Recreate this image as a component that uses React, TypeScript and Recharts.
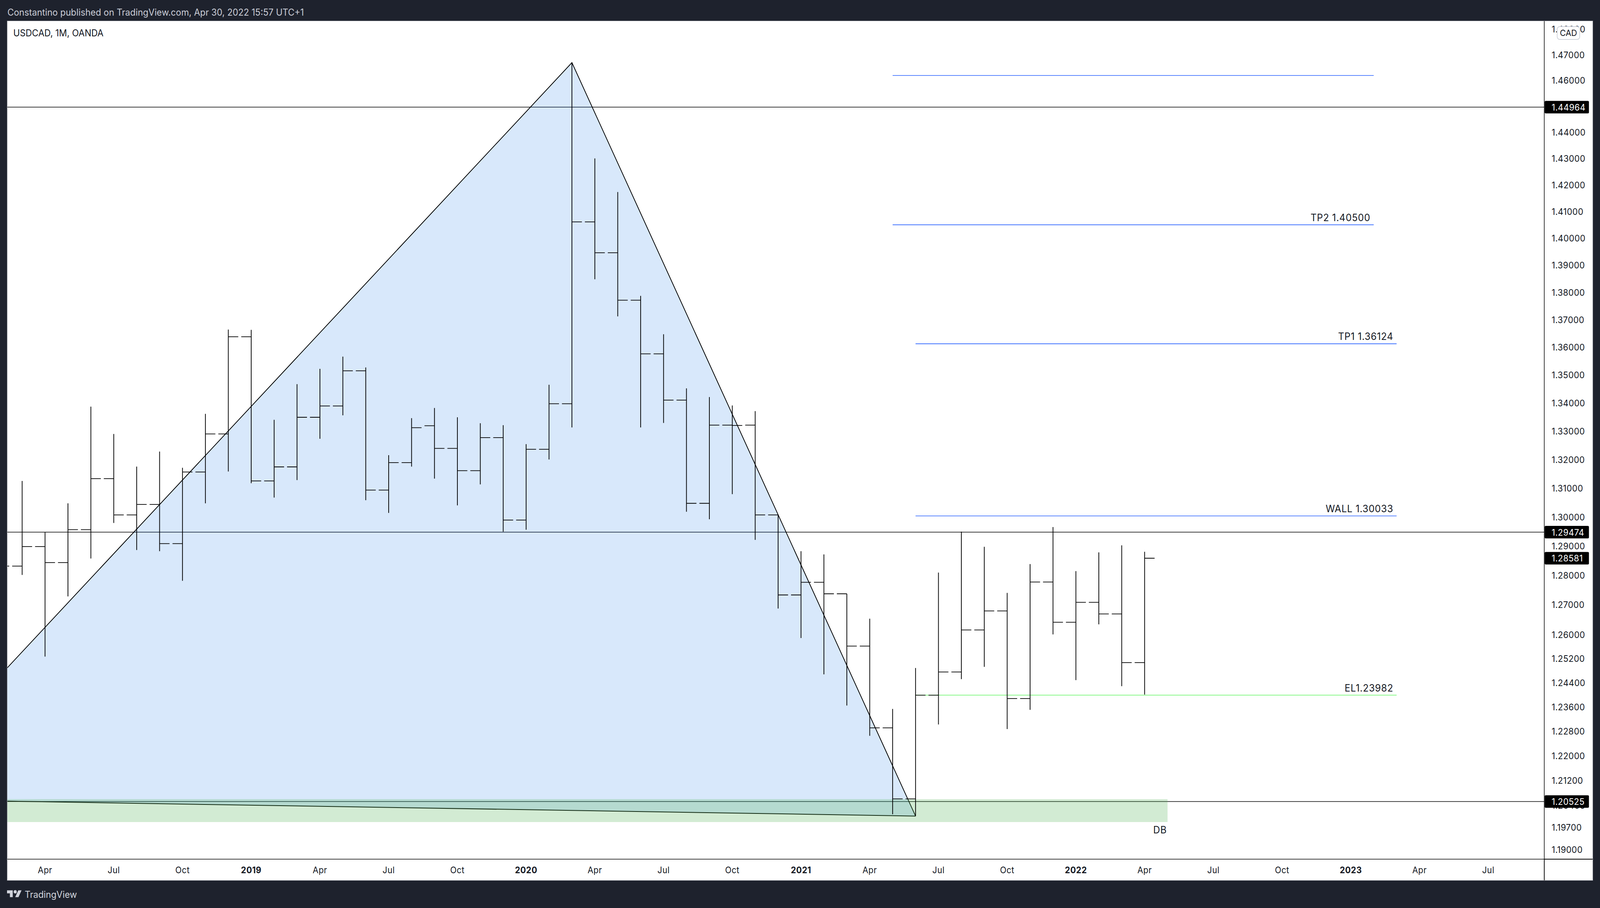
import React from "react";
import { ComposedChart, Line, Area, Scatter, XAxis, YAxis, ReferenceArea } from "recharts";

// Months counted from Jan 2018 = 0
const barMonths = [2,3,4,5,6,7,8,9,10,11,12,13,14,15,16,17,18,19,20,21,22,23,24,25,26,27,28,29,30,31,32,33,34,35,36,37,38,39,40,41,42,43,44,45,46,47,48,49,50,51];
const opens = [1.2831,1.2898,1.2843,1.2956,1.3133,1.3007,1.3043,1.2908,1.3156,1.329,1.3638,1.3125,1.3174,1.3349,1.3389,1.3515,1.3093,1.3189,1.3319,1.3239,1.3161,1.3277,1.2989,1.3236,1.3397,1.4061,1.3946,1.3771,1.3576,1.341,1.3047,1.3321,1.3321,1.3007,1.2733,1.2776,1.2737,1.2561,1.2291,1.2061,1.2398,1.2475,1.2615,1.2679,1.2387,1.2777,1.2641,1.2708,1.2669,1.2506];
const highs = [1.3125,1.2947,1.3047,1.3387,1.329,1.3175,1.3228,1.3171,1.3361,1.3664,1.3663,1.334,1.3467,1.3522,1.3566,1.3527,1.3215,1.3346,1.3382,1.3349,1.3328,1.3321,1.3254,1.3465,1.4669,1.43,1.4173,1.3787,1.3647,1.3452,1.3421,1.3391,1.3371,1.3007,1.2882,1.2871,1.2737,1.2653,1.2353,1.2488,1.2809,1.2949,1.2897,1.274,1.2838,1.2965,1.2814,1.2878,1.2902,1.288];
const lows = [1.2801,1.2526,1.2728,1.2857,1.2979,1.2886,1.2882,1.2781,1.3047,1.3158,1.3117,1.3067,1.3128,1.3273,1.3356,1.3058,1.3014,1.3175,1.3133,1.304,1.3113,1.2949,1.2956,1.32,1.3313,1.3848,1.3712,1.3313,1.3329,1.3018,1.2992,1.3079,1.2921,1.2687,1.2588,1.2467,1.2364,1.2265,1.2012,1.2006,1.2302,1.2451,1.2492,1.2287,1.235,1.26,1.2448,1.2634,1.2428,1.24];
const closes = [1.2898,1.2843,1.2956,1.3133,1.3007,1.3043,1.2908,1.3156,1.329,1.3638,1.3125,1.3174,1.3349,1.3389,1.3515,1.3093,1.3189,1.3312,1.3239,1.3161,1.3277,1.2989,1.3236,1.3397,1.4061,1.3946,1.3771,1.3576,1.341,1.3047,1.3321,1.332,1.3007,1.2733,1.2776,1.2737,1.2561,1.2291,1.2061,1.2398,1.2475,1.2615,1.2679,1.2387,1.2777,1.2641,1.2708,1.2669,1.2506,1.2858];
const febCloseMonth = 1;
const febClose = 1.2831;

const triangleMonths = [-4, 26, 41];
const triangleLow = [1.206, 1.2024, 1.2006];
const triangleHigh = [1.206, 1.4669, 1.2006];

const horizontalLevels = [1.44964, 1.29474, 1.20525];
const blueSegments = [
  { from: 40, to: 61, price: 1.4619 },
  { from: 40, to: 61, price: 1.405 },
  { from: 41, to: 62, price: 1.36124 },
  { from: 41, to: 62, price: 1.30033 },
];
const greenSegment = { from: 41, to: 62, price: 1.23982 };
const zone = { from: -4, to: 52, top: 1.206, bottom: 1.1987 };

const annotations = [
  { x: 61, y: 1.405, text: "TP2 1.40500", below: false },
  { x: 62, y: 1.36124, text: "TP1 1.36124", below: false },
  { x: 62, y: 1.30033, text: "WALL 1.30033", below: false },
  { x: 62, y: 1.23982, text: "EL1.23982", below: false },
  { x: 52, y: 1.1987, text: "DB", below: true },
];

const tickMonths = [3,6,9,12,15,18,21,24,27,30,33,36,39,42,45,48,51,54,57,60,63,66];
const tickLabels = ["Apr","Jul","Oct","2019","Apr","Jul","Oct","2020","Apr","Jul","Oct","2021","Apr","Jul","Oct","2022","Apr","Jul","Oct","2023","Apr","Jul"];

const priceTicks = [1.48,1.47,1.46,1.45,1.44,1.43,1.42,1.41,1.4,1.39,1.38,1.37,1.36,1.35,1.34,1.33,1.32,1.31,1.3,1.29,1.28,1.27,1.26,1.252,1.244,1.236,1.228,1.22,1.212,1.204,1.197,1.19];
const priceTags = [1.44964, 1.29474, 1.28581, 1.20525];

const xDomain = [1.3557, 68.446];
const yDomain = [1.18692, 1.48319];

const FONT = "Inter, 'Liberation Sans', sans-serif";
const DARK = "#1e222d";
const PAGE_W = 4336;
const PAGE_H = 2324;

const wickData = barMonths.flatMap((m, i) => [{ x: m, y: lows[i] }, { x: m, y: highs[i] }, { x: m + 0.001, y: null }]);
const tickLen = 0.435;
const openData = barMonths.flatMap((m, i) => [{ x: m - tickLen, y: opens[i] }, { x: m, y: opens[i] }, { x: m + 0.001, y: null }]);
const closeData = [
  { x: febCloseMonth, y: febClose }, { x: febCloseMonth + tickLen, y: febClose }, { x: febCloseMonth + 0.5, y: null },
  ...barMonths.flatMap((m, i) => [{ x: m, y: closes[i] }, { x: m + tickLen, y: closes[i] }, { x: m + 0.5, y: null }]),
];
const triangleData = triangleMonths.map((m, i) => ({ x: m, range: [triangleLow[i], triangleHigh[i]] }));
const levelData = horizontalLevels.flatMap((p) => [{ x: xDomain[0], y: p }, { x: xDomain[1], y: p }, { x: xDomain[1], y: null }]);
const blueData = blueSegments.flatMap((s) => [{ x: s.from, y: s.price }, { x: s.to, y: s.price }, { x: s.to, y: null }]);
const greenData = [{ x: greenSegment.from, y: greenSegment.price }, { x: greenSegment.to, y: greenSegment.price }];

function PriceTick(props: any) {
  const { x, y, payload } = props;
  const v = payload.value;
  const tag = priceTags.includes(v);
  return (
    <g>
      {tag && <rect x={x - 19} y={y - 16} width={120} height={32} rx={3} fill="#000" />}
      <text x={x} y={y} dominantBaseline="central" textAnchor="start" fontFamily={FONT} fontSize={23} letterSpacing={0.4} fill={tag ? "#fff" : "#131722"}>
        {v.toFixed(5)}
      </text>
    </g>
  );
}

function TimeTick(props: any) {
  const { x, y, payload } = props;
  const label = tickLabels[tickMonths.indexOf(payload.value)];
  const year = /^\d/.test(label);
  return (
    <text x={x} y={y} dominantBaseline="central" textAnchor="middle" fontFamily={FONT} fontSize={22.5} fontWeight={year ? 700 : 400} letterSpacing={0.5} fill="#131722">
      {label}
    </text>
  );
}

function NoteShape(props: any) {
  const { cx, cy, payload } = props;
  return (
    <text x={cx - (payload.below ? 2 : 9)} y={cy + (payload.below ? 20 : -19)} dominantBaseline="central" textAnchor="end" fontFamily={FONT} fontSize={25.5} letterSpacing={0.8} fill="#131722">
      {payload.text}
    </text>
  );
}

const abs = (s: React.CSSProperties): React.CSSProperties => ({ position: "absolute", ...s });

export default function App() {
  const extra: any = {};
  // The browser window can be narrower than the page: fit the full width into it.
  const winW = typeof window !== "undefined" ? window.innerWidth : PAGE_W;
  const sx = Math.min(1, winW / PAGE_W);
  return (
    <div style={abs({ left: 0, top: 0, width: PAGE_W * sx, height: PAGE_H, overflow: "hidden", background: DARK })}>
      <div style={abs({ left: 0, top: 0, width: PAGE_W, height: PAGE_H, background: DARK, fontFamily: FONT, transform: `scaleX(${sx})`, transformOrigin: "0 0" })}>
        <div style={abs({ left: 19, top: 53, width: 4296, height: 2199, background: "#fff", border: "1px solid #8a8d96" })} />
        <div style={abs({ left: 20, top: 19, fontSize: 24, lineHeight: "26px", color: "#c9ccd6", whiteSpace: "nowrap" })}>
          Constantino published on TradingView.com, Apr 30, 2022 15:57 UTC+1
        </div>
        <ComposedChart width={PAGE_W} height={PAGE_H} margin={{ top: 54, right: 20, bottom: 71, left: 20 }} style={{ position: "absolute", left: 0, top: 0 }}>
          <XAxis
            type="number"
            dataKey="x"
            domain={xDomain}
            allowDataOverflow
            ticks={tickMonths}
            interval={0}
            height={54}
            tickSize={0}
            tickMargin={28}
            tick={<TimeTick />}
            tickLine={false}
            axisLine={{ stroke: "#000", strokeWidth: 1.6 }}
          />
          <YAxis
            orientation="right"
            type="number"
            scale="log"
            domain={yDomain}
            allowDataOverflow
            ticks={[...priceTicks, ...priceTags]}
            interval={0}
            width={131}
            tickSize={0}
            tickMargin={20}
            tick={<PriceTick />}
            tickLine={false}
            axisLine={{ stroke: "#000", strokeWidth: 1.6 }}
          />
          <Line {...extra} zIndex={50} name="Horizontal levels" data={levelData} dataKey="y" stroke="#000" strokeWidth={1.6} dot={false} isAnimationActive={false} />
          <Area {...extra} zIndex={100} name="Triangle" data={triangleData} dataKey="range" type="linear" stroke="#000" strokeWidth={2} fill="rgb(38,127,233)" fillOpacity={0.18} dot={false} isAnimationActive={false} />
          <ReferenceArea {...extra} zIndex={110} x1={zone.from} x2={zone.to} y1={zone.bottom} y2={zone.top} fill="#4caf50" fillOpacity={0.25} stroke="none" ifOverflow="hidden" />
          <Line {...extra} zIndex={120} name="Targets" data={blueData} dataKey="y" stroke="#2962ff" strokeWidth={1.6} dot={false} isAnimationActive={false} />
          <Line {...extra} zIndex={120} name="Entry" data={greenData} dataKey="y" stroke="#66f566" strokeWidth={1.6} dot={false} isAnimationActive={false} />
          <Line {...extra} zIndex={400} name="High-Low" data={wickData} dataKey="y" stroke="#000" strokeWidth={2} dot={false} isAnimationActive={false} />
          <Line {...extra} zIndex={400} name="Open" data={openData} dataKey="y" stroke="#000" strokeWidth={1.8} dot={false} isAnimationActive={false} />
          <Line {...extra} zIndex={400} name="Close" data={closeData} dataKey="y" stroke="#000" strokeWidth={1.8} dot={false} isAnimationActive={false} />
          <Scatter {...extra} zIndex={500} name="Notes" data={annotations} dataKey="y" shape={<NoteShape />} isAnimationActive={false} />
        </ComposedChart>
        <div style={abs({ left: 4184, top: 2199, width: 2, height: 54, background: "#000" })} />
        <div style={abs({ left: 4185, top: 2198, width: 131, height: 2, background: "#000" })} />
        <div style={abs({ left: 36, top: 72, fontSize: 24, lineHeight: "26px", color: "#131722", whiteSpace: "nowrap" })}>USDCAD, 1M, OANDA</div>
        <div style={abs({ left: 4219, top: 67, width: 59, height: 31, border: "2px solid #d1d4dc", borderRadius: 8, background: "#fff", color: "#131722", fontSize: 22, lineHeight: "31px", textAlign: "center" })}>CAD</div>
        <svg style={abs({ left: 19, top: 2272 })} width={40} height={31} viewBox="0 0 36 28">
          <path d="M14 6H0v7h7v9h7V6zM28 22h-8l7.5-16h8L28 22z" fill="#d1d4dc" />
          <circle cx="20" cy="9.5" r="3.8" fill="#d1d4dc" />
        </svg>
        <div style={abs({ left: 67, top: 2274, fontSize: 24, lineHeight: "32px", color: "#d1d4dc", whiteSpace: "nowrap" })}>TradingView</div>
      </div>
    </div>
  );
}
